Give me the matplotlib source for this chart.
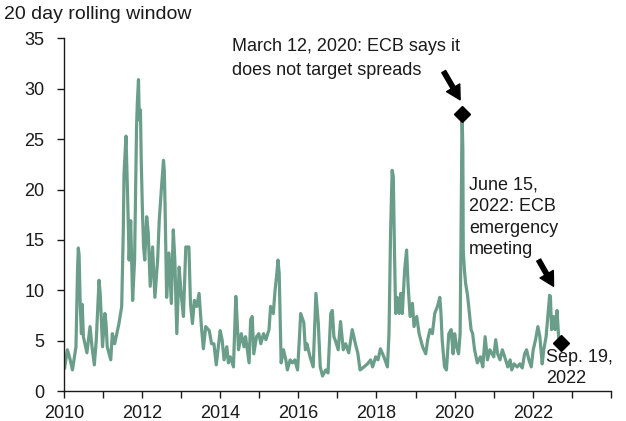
import numpy as np
import matplotlib
matplotlib.use("Agg")
from matplotlib import pyplot as plt

plt.rcParams["font.family"] = ["Liberation Sans", "DejaVu Sans"]

# series (decimal year, 20 day rolling value)
years = [
    2010.02, 2010.09, 2010.15, 2010.22, 2010.31, 2010.35, 2010.37, 2010.39, 2010.42, 2010.45,
    2010.47, 2010.50, 2010.59, 2010.67, 2010.72, 2010.78, 2010.83, 2010.90, 2010.93, 2010.99,
    2011.05, 2011.08, 2011.11, 2011.20, 2011.24, 2011.30, 2011.41, 2011.48, 2011.52, 2011.54,
    2011.59, 2011.63, 2011.67, 2011.71, 2011.76, 2011.81, 2011.86, 2011.88, 2011.91, 2011.93,
    2011.96, 2011.98, 2012.01, 2012.04, 2012.07, 2012.12, 2012.16, 2012.21, 2012.27, 2012.33,
    2012.40, 2012.44, 2012.50, 2012.55, 2012.57, 2012.59, 2012.63, 2012.69, 2012.75, 2012.80,
    2012.84, 2012.89, 2012.95, 2013.00, 2013.06, 2013.12, 2013.20, 2013.24, 2013.29, 2013.34,
    2013.40, 2013.46, 2013.52, 2013.57, 2013.63, 2013.72, 2013.78, 2013.84, 2013.90, 2014.00,
    2014.05, 2014.10, 2014.17, 2014.21, 2014.26, 2014.34, 2014.40, 2014.42, 2014.47, 2014.54,
    2014.61, 2014.65, 2014.74, 2014.78, 2014.82, 2014.86, 2014.93, 2014.99, 2015.04, 2015.11,
    2015.17, 2015.25, 2015.29, 2015.36, 2015.40, 2015.45, 2015.48, 2015.51, 2015.53, 2015.56,
    2015.62, 2015.68, 2015.72, 2015.79, 2015.85, 2015.91, 2015.98, 2016.02, 2016.06, 2016.14,
    2016.18, 2016.22, 2016.30, 2016.38, 2016.45, 2016.51, 2016.56, 2016.62, 2016.70, 2016.76,
    2016.83, 2016.87, 2016.91, 2016.95, 2017.02, 2017.08, 2017.15, 2017.21, 2017.29, 2017.38,
    2017.42, 2017.46, 2017.52, 2017.58, 2017.68, 2017.77, 2017.85, 2017.90, 2017.98, 2018.04,
    2018.10, 2018.19, 2018.28, 2018.32, 2018.36, 2018.40, 2018.43, 2018.46, 2018.49, 2018.53,
    2018.58, 2018.62, 2018.66, 2018.72, 2018.77, 2018.81, 2018.86, 2018.92, 2018.96, 2019.03,
    2019.09, 2019.18, 2019.26, 2019.31, 2019.37, 2019.43, 2019.49, 2019.56, 2019.62, 2019.65,
    2019.68, 2019.74, 2019.79, 2019.85, 2019.91, 2019.96, 2020.00, 2020.05, 2020.10, 2020.14,
    2020.17, 2020.19, 2020.21, 2020.22, 2020.25, 2020.28, 2020.33, 2020.37, 2020.42, 2020.46,
    2020.51, 2020.58, 2020.62, 2020.66, 2020.72, 2020.78, 2020.84, 2020.90, 2021.00, 2021.05,
    2021.10, 2021.16, 2021.22, 2021.28, 2021.36, 2021.42, 2021.46, 2021.52, 2021.60, 2021.67,
    2021.73, 2021.79, 2021.84, 2021.90, 2021.96, 2022.01, 2022.07, 2022.13, 2022.18, 2022.24,
    2022.28, 2022.34, 2022.43, 2022.45, 2022.48, 2022.53, 2022.57, 2022.62, 2022.66, 2022.69,
    2022.72,
]
values = [
    2.3, 4.1, 3.3, 2.1, 4.4, 12.0, 14.2, 13.5, 8.4, 5.7,
    8.6, 5.4, 3.8, 6.4, 4.4, 2.6, 5.1, 11.0, 9.7, 4.4,
    7.7, 6.7, 4.4, 3.1, 5.7, 4.7, 6.7, 8.4, 15.7, 21.6,
    25.3, 19.6, 13.0, 16.9, 9.0, 13.0, 26.2, 28.6, 30.9, 26.9,
    27.9, 22.9, 18.0, 14.3, 13.0, 17.3, 15.7, 10.4, 14.3, 9.3,
    13.0, 16.9, 20.3, 22.9, 21.9, 18.3, 9.3, 13.7, 8.7, 16.0,
    13.0, 5.7, 12.3, 9.7, 7.4, 14.3, 14.3, 8.7, 6.7, 9.0,
    8.4, 9.7, 6.4, 4.2, 6.4, 6.0, 4.7, 4.7, 2.6, 6.0,
    5.1, 3.1, 4.4, 2.8, 3.4, 2.4, 9.4, 8.1, 4.1, 5.7,
    4.4, 5.4, 2.8, 7.1, 7.4, 3.7, 5.4, 5.7, 4.7, 5.7,
    5.1, 6.1, 8.4, 7.7, 9.8, 11.7, 13.0, 11.7, 8.1, 2.8,
    4.1, 3.1, 2.1, 3.1, 2.8, 3.1, 2.1, 4.7, 7.7, 6.8,
    4.1, 4.7, 3.4, 2.4, 9.7, 6.8, 2.4, 1.5, 2.1, 1.8,
    7.7, 8.0, 5.4, 5.0, 4.1, 6.9, 4.1, 4.7, 3.8, 6.1,
    5.4, 4.7, 3.8, 2.1, 2.4, 2.7, 3.1, 2.4, 3.4, 3.1,
    4.2, 3.4, 2.4, 5.7, 15.7, 21.9, 21.3, 14.0, 7.7, 9.3,
    7.7, 9.7, 7.7, 12.0, 14.0, 10.4, 7.4, 8.7, 6.4, 7.4,
    5.7, 4.4, 3.7, 5.1, 6.1, 5.7, 7.7, 8.4, 9.3, 7.7,
    5.1, 2.4, 2.1, 5.7, 6.1, 3.7, 5.7, 4.4, 3.7, 5.7,
    19.0, 27.5, 24.0, 14.0, 12.0, 10.7, 9.5, 8.0, 6.1, 5.7,
    4.1, 2.8, 3.1, 3.4, 2.4, 5.4, 3.1, 4.1, 3.4, 5.1,
    3.7, 3.1, 4.1, 3.4, 2.4, 3.1, 2.1, 2.7, 2.4, 2.7,
    2.3, 3.7, 4.1, 3.1, 2.4, 4.1, 5.1, 6.4, 5.4, 2.7,
    4.1, 5.4, 9.5, 9.4, 6.1, 7.4, 6.1, 8.0, 5.4, 4.4,
    4.8,
]

# marked events
event_years = [2020.19, 2022.72]

line_color = "#6b9e8a"
text_color = "#1a1a1a"


def value_at(year):
    return values[years.index(year)]


fig = plt.figure(figsize=(6.26, 4.21), dpi=100)
ax = fig.add_axes([0.102, 0.071, 0.874, 0.838])

ax.plot(years, values, color=line_color, lw=2.3, solid_joinstyle="round")
ax.plot(event_years, [value_at(y) for y in event_years], linestyle="none",
        marker="D", markersize=8.5, color="black", zorder=5)

ax.set_xlim(2010, 2024)
ax.set_ylim(0, 35)
ax.set_xticks(np.arange(2010, 2023, 2))
ax.set_xticks(np.arange(2010, 2025, 1), minor=True)
ax.set_yticks(np.arange(0, 36, 5))
ax.tick_params(axis="both", which="both", direction="out", length=5, width=1,
               labelsize=13, colors=text_color)
ax.tick_params(axis="y", pad=9)
ax.tick_params(axis="x", pad=5)
for side in ["top", "right"]:
    ax.spines[side].set_visible(False)
for side in ["left", "bottom"]:
    ax.spines[side].set_color(text_color)
    ax.spines[side].set_linewidth(1)

fig.text(0.006, 0.965, "20 day rolling window", fontsize=14, va="center",
         ha="left", color=text_color)

arrow = dict(facecolor="black", edgecolor="black", width=3.2, headwidth=11,
             headlength=10, shrink=0)
ax.text(2014.30, 35.0, "March 12, 2020: ECB says it\ndoes not target spreads",
        fontsize=13, va="top", ha="left", linespacing=1.5, color=text_color)
ax.annotate("", xy=(2020.14, 28.9), xytext=(2019.72, 31.7), arrowprops=arrow)

ax.text(2020.37, 21.3, "June 15,\n2022: ECB\nemergency\nmeeting",
        fontsize=13, va="top", ha="left", linespacing=1.35, color=text_color)
ax.annotate("", xy=(2022.53, 10.4), xytext=(2022.15, 13.0), arrowprops=arrow)

ax.text(2022.34, 4.2, "Sep. 19,\n2022", fontsize=13, va="top", ha="left",
        linespacing=1.35, color=text_color)

fig.savefig("out.png", dpi=100)
